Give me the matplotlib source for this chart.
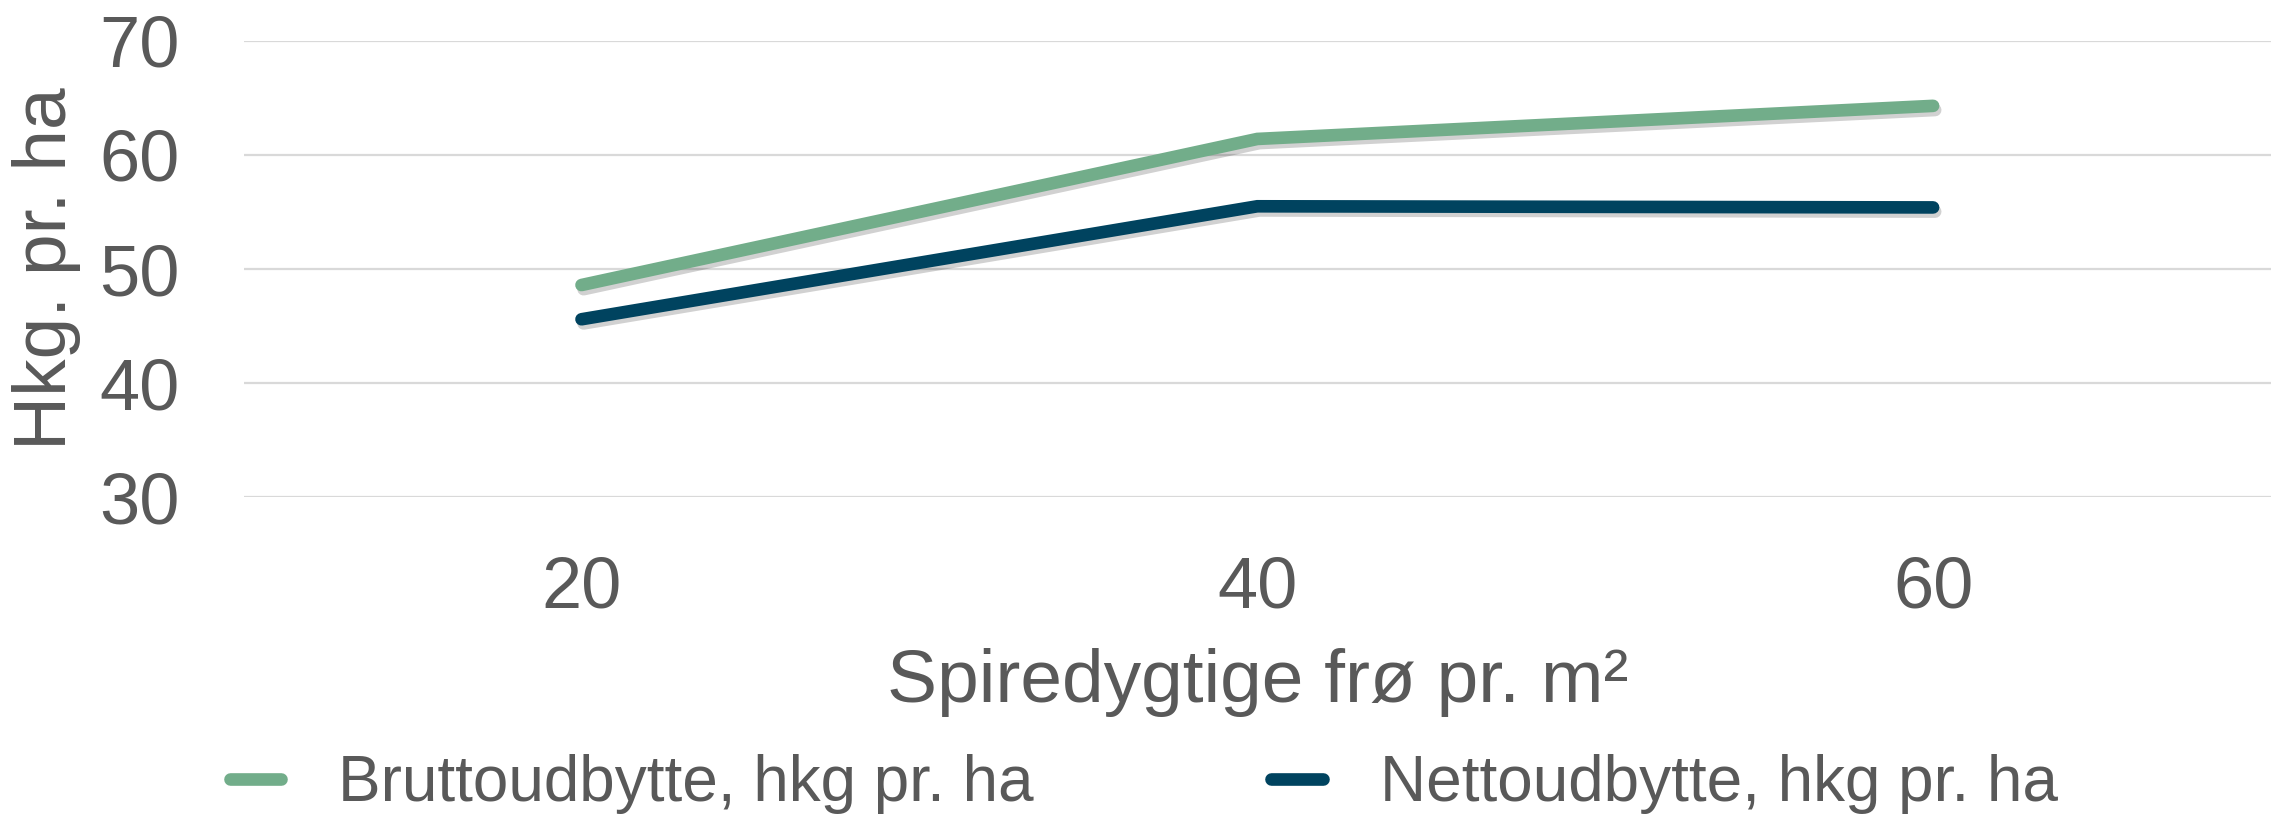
import matplotlib
matplotlib.use("Agg")
import matplotlib.pyplot as plt
import matplotlib.patheffects as pe

categories = ["20", "40", "60"]
brutto = [48.6, 61.4, 64.3]
netto = [45.6, 55.5, 55.4]
series_names = ["Bruttoudbytte, hkg pr. ha", "Nettoudbytte, hkg pr. ha"]
yticks = [30, 40, 50, 60, 70]

plt.rcParams["font.family"] = ["Liberation Sans", "DejaVu Sans"]
TXT = "#595959"

W, H = 2287, 817
fig = plt.figure(figsize=(W / 100, H / 100), dpi=100)
L, R, T, B = 243.6, 2271, 40.8, 497.3
ax = fig.add_axes([L / W, 1 - B / H, (R - L) / W, (B - T) / H])

x = list(range(len(categories)))
shadow = [pe.SimpleLineShadow(offset=(1.5, -3), shadow_color="black", alpha=0.18), pe.Normal()]
ax.plot(x, brutto, color="#72AD8A", lw=9.1, solid_capstyle="round",
        solid_joinstyle="miter", label=series_names[0], path_effects=shadow, zorder=3)
ax.plot(x, netto, color="#00435F", lw=9.1, solid_capstyle="round",
        solid_joinstyle="miter", label=series_names[1], path_effects=shadow, zorder=3)

ax.set_xlim(-0.5, len(categories) - 0.5)
ax.set_ylim(30, 70)
ax.set_yticks(yticks)
ax.set_xticks(x)
ax.set_xticklabels(categories)
ax.grid(axis="y", color="#d9d9d9", lw=1.6)
ax.set_axisbelow(True)
for s in ax.spines.values():
    s.set_visible(False)
ax.tick_params(axis="both", length=0, labelsize=52, labelcolor=TXT)
ax.tick_params(axis="x", pad=42)
ax.tick_params(axis="y", pad=46)

ax.set_xlabel("Spiredygtige frø pr. m²", fontsize=54, color=TXT, labelpad=18)
ax.set_ylabel("Hkg. pr. ha", fontsize=54, color=TXT, va="center")
ax.yaxis.set_label_coords((47 - L) / (R - L), 0.5)

leg = fig.legend(loc="center left", bbox_to_anchor=(229.5 / W, 1 - 784.5 / H), ncol=2,
                 frameon=False, fontsize=46, handlelength=0.8, handletextpad=0.9,
                 columnspacing=3.72, borderpad=0, borderaxespad=0)
for t in leg.get_texts():
    t.set_color(TXT)
for h in leg.legend_handles:
    h.set_path_effects([])
    h.set_solid_capstyle("round")

fig.savefig("out.png", dpi=100)
